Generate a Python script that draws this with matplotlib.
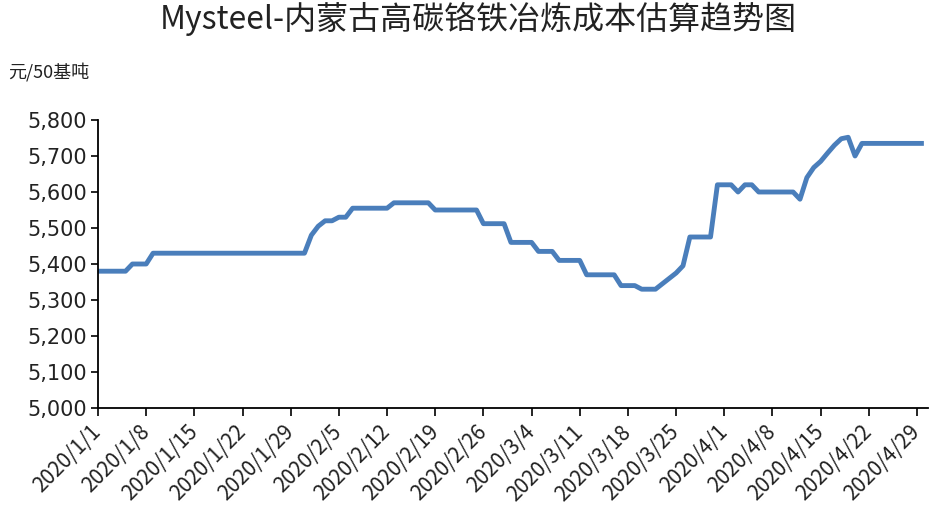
import matplotlib
matplotlib.use("Agg")
import matplotlib.pyplot as plt
import matplotlib.dates as mdates
import matplotlib.ticker as mticker
import pandas as pd
import numpy as np

plt.rcParams['font.family'] = ['Noto Sans CJK SC', 'DejaVu Sans']

title = "Mysteel-内蒙古高碳铬铁冶炼成本估算趋势图"
unit_label = "元/50基吨"
start_date = "2020-01-01"

# Daily cost estimate (元/50基吨), 2020/1/1 .. 2020/4/30
cost = [
    5380, 5380, 5380, 5380, 5380, 5400, 5400, 5400,
    5430, 5430, 5430, 5430, 5430, 5430, 5430, 5430, 5430, 5430, 5430, 5430,
    5430, 5430, 5430, 5430, 5430, 5430, 5430, 5430, 5430, 5430, 5430,
    5480, 5505, 5520, 5520, 5530, 5530,
    5555, 5555, 5555, 5555, 5555, 5555,
    5570, 5570, 5570, 5570, 5570, 5570,
    5550, 5550, 5550, 5550, 5550, 5550, 5550,
    5512, 5512, 5512, 5512,
    5460, 5460, 5460, 5460,
    5435, 5435, 5435,
    5410, 5410, 5410, 5410,
    5370, 5370, 5370, 5370, 5370,
    5340, 5340, 5340,
    5330, 5330, 5330,
    5345, 5360, 5375, 5395,
    5475, 5475, 5475, 5475,
    5620, 5620, 5620, 5600, 5620, 5620,
    5600, 5600, 5600, 5600, 5600, 5600, 5580,
    5640, 5668, 5685, 5708, 5730, 5748, 5752, 5700,
    5735, 5735, 5735, 5735, 5735, 5735, 5735, 5735, 5735, 5735,
]

dates = pd.date_range(start_date, periods=len(cost), freq="D")
tick_dates = pd.date_range(start_date, "2020-04-29", freq="7D")
y_ticks = [5000, 5100, 5200, 5300, 5400, 5500, 5600, 5700, 5800]

fig = plt.figure(figsize=(9.30, 5.31), dpi=100)
ax = fig.add_axes([98/930, 1-408/531, (928-98)/930, (408-120)/531])

ax.plot(dates, cost, color="#4a7ebb", linewidth=3.5, solid_joinstyle="round", solid_capstyle="butt")

ax.set_ylim(5000, 5800)
ax.set_yticks(y_ticks)
ax.yaxis.set_major_formatter(mticker.FuncFormatter(lambda v, p: f"{int(v):,}"))

x0 = mdates.date2num(pd.Timestamp(start_date))
ax.set_xlim(x0, x0 + 120.6)
ax.set_xticks(tick_dates)
ax.set_xticklabels([f"{d.year}/{d.month}/{d.day}" for d in tick_dates],
                   rotation=45, ha="right", va="center", rotation_mode="anchor",
                   fontsize=15, color="#222222")

for lab in ax.get_yticklabels():
    lab.set_fontsize(15)
    lab.set_family(['DejaVu Sans'])
    lab.set_color("#222222")

ax.spines['top'].set_visible(False)
ax.spines['right'].set_visible(False)
ax.spines['left'].set_linewidth(1.3)
ax.spines['bottom'].set_linewidth(1.3)
ax.tick_params(axis='y', direction='out', length=5, width=1.2, pad=3)
ax.tick_params(axis='x', direction='out', length=6, width=1.2, pad=9)

fig.text(478/930, 1-19/531, title, ha="center", va="center", fontsize=23, color="#222222")
fig.text(8/930, 1-72/531, unit_label, ha="left", va="center", fontsize=13, color="#222222")

fig.savefig("out.png", dpi=100)
